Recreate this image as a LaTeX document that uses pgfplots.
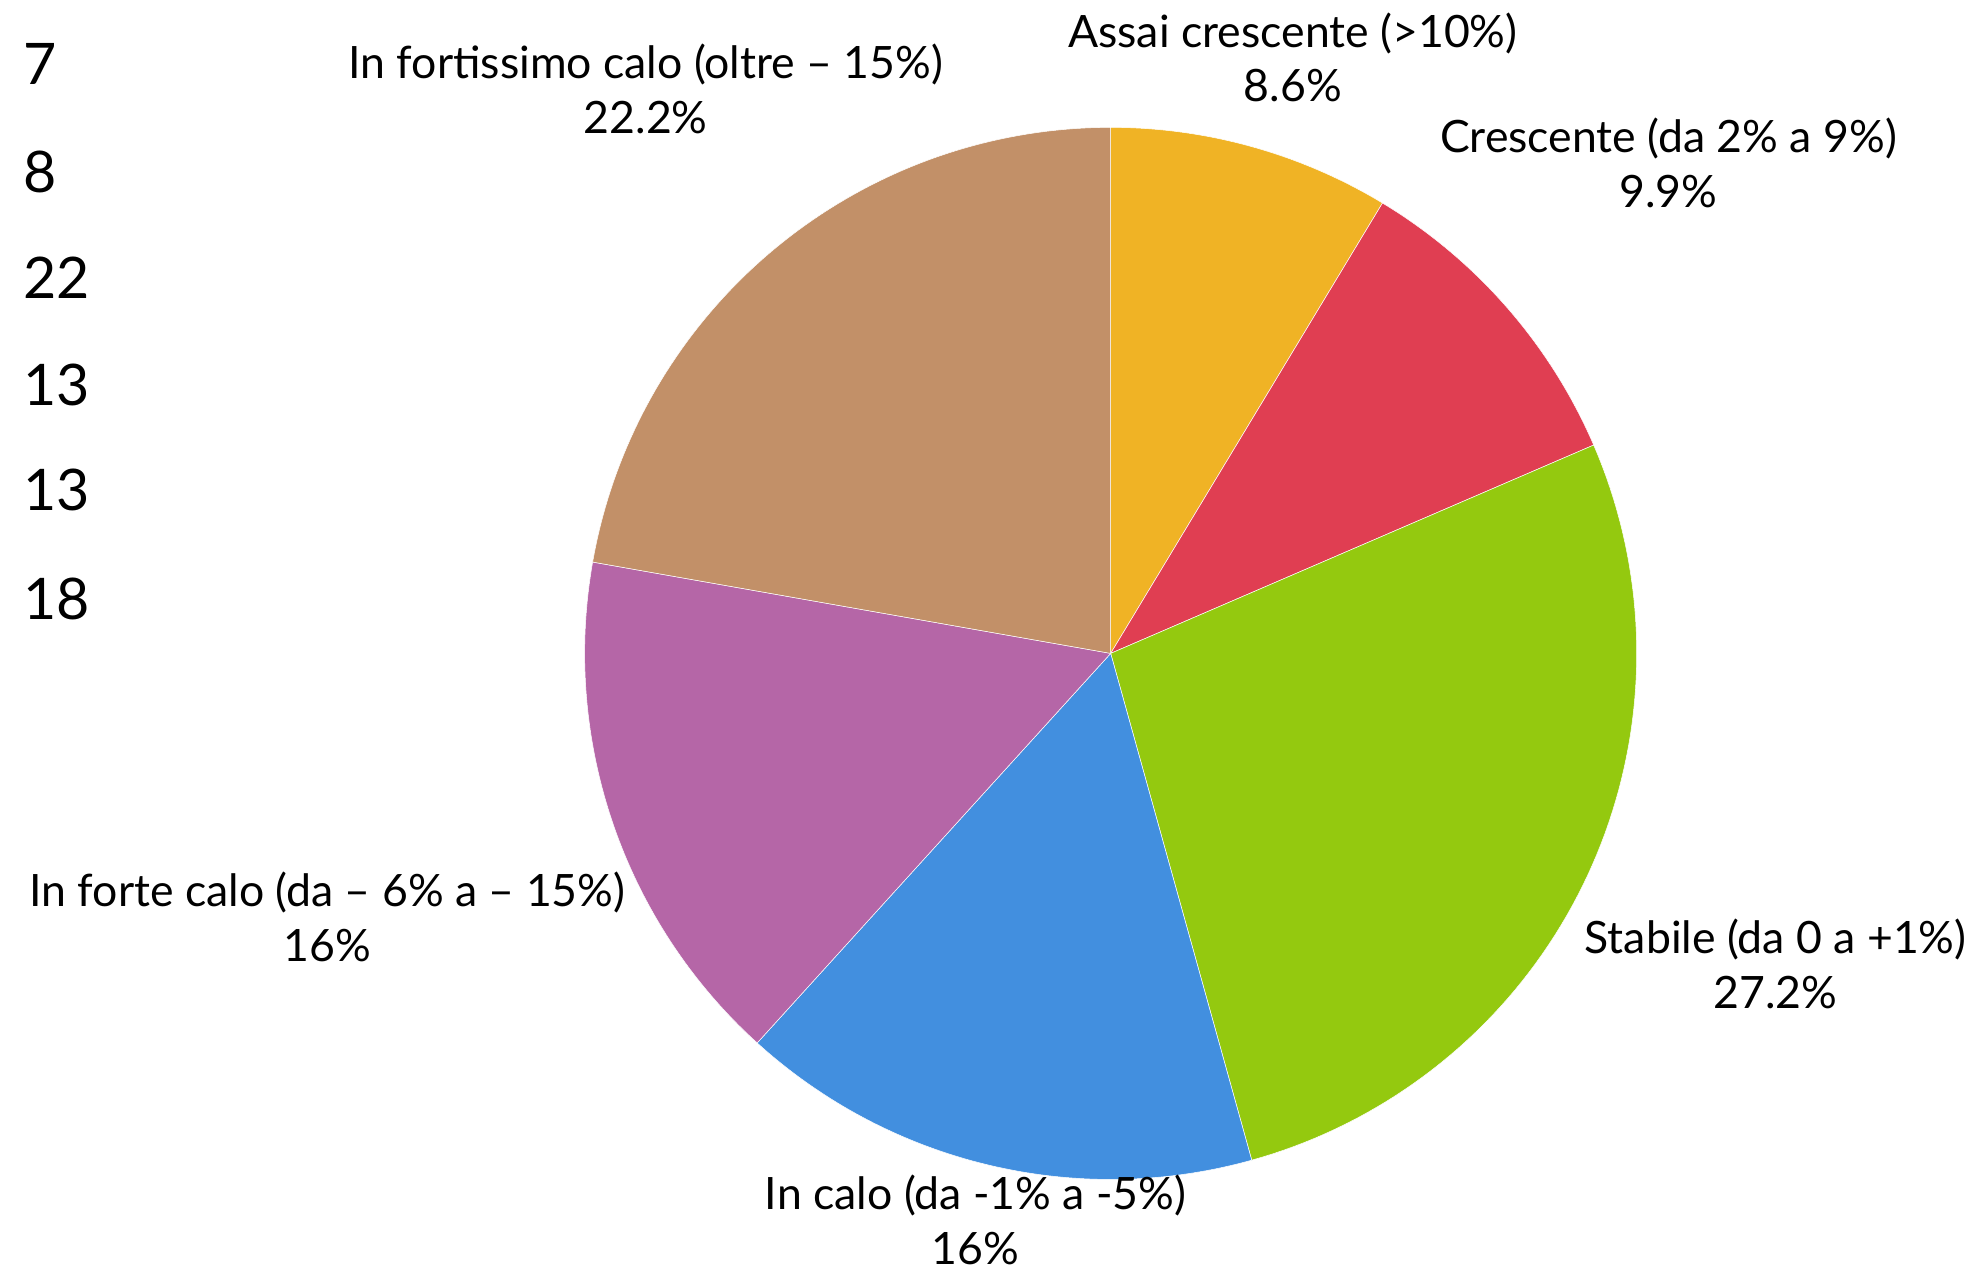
\documentclass[border=0pt]{standalone}
\usepackage{pgfplots}
\pgfplotsset{compat=1.18}
\usepackage{fontspec}
\setmainfont{Lato}
\definecolor{cA}{HTML}{F0B325}
\definecolor{cB}{HTML}{E03E52}
\definecolor{cC}{HTML}{94C90F}
\definecolor{cD}{HTML}{428FDF}
\definecolor{cE}{HTML}{B566A7}
\definecolor{cF}{HTML}{C29068}
% slice values (clockwise from top)
\def\vA{7}\def\vB{8}\def\vC{22}\def\vD{13}\def\vE{13}\def\vF{18}
\pgfmathsetmacro{\tot}{\vA+\vB+\vC+\vD+\vE+\vF}
\pgfmathsetmacro{\eA}{360*\vA/\tot}
\pgfmathsetmacro{\eB}{\eA+360*\vB/\tot}
\pgfmathsetmacro{\eC}{\eB+360*\vC/\tot}
\pgfmathsetmacro{\eD}{\eC+360*\vD/\tot}
\pgfmathsetmacro{\eE}{\eD+360*\vE/\tot}
\pgfmathsetmacro{\eF}{360}
\def\cx{872}\def\cy{487}\def\rr{413}
\newcommand{\slice}[3]{%
  \addplot[draw=white, line width=0.2pt, fill=#3, domain=#1:#2, samples=80, variable=\t]
    ({\cx+\rr*sin(\t)},{\cy+\rr*cos(\t)}) -- (axis cs:\cx,\cy) -- cycle;}
\begin{document}
\begin{tikzpicture}
\begin{axis}[width=780pt, height=500pt, scale only axis,
  xmin=0, xmax=1560, ymin=0, ymax=1000, hide axis, clip=false]
\path (axis cs:0,0) rectangle (axis cs:1560,1000);
\slice{0}{\eA}{cA}
\slice{\eA}{\eB}{cB}
\slice{\eB}{\eC}{cC}
\slice{\eC}{\eD}{cD}
\slice{\eD}{\eE}{cE}
\slice{\eE}{\eF}{cF}
\tikzset{lab/.style={align=center, font=\fontsize{17.5}{21.5}\selectfont, inner sep=0pt},
         num/.style={anchor=west, font=\fontsize{22.5}{26}\selectfont, inner sep=0pt}}
\node[lab] at (axis cs:1015,955) {Assai crescente (>10\%)\\8.6\%};
\node[lab] at (axis cs:1310,872) {Crescente (da 2\% a 9\%)\\9.9\%};
\node[lab] at (axis cs:1394,243) {Stabile (da 0 a +1\%)\\27.2\%};
\node[lab] at (axis cs:766,42) {In calo (da -1\% a -5\%)\\16\%};
\node[lab] at (axis cs:257,280) {In forte calo (da – 6\% a – 15\%)\\16\%};
\node[lab] at (axis cs:507,930) {In fortissimo calo (oltre – 15\%)\\22.2\%};
\node[num] at (axis cs:18,950) {7};
\node[num] at (axis cs:18,865) {8};
\node[num] at (axis cs:18,782) {22};
\node[num] at (axis cs:18,698) {13};
\node[num] at (axis cs:18,615) {13};
\node[num] at (axis cs:18,530) {18};
\end{axis}
\end{tikzpicture}
\end{document}
